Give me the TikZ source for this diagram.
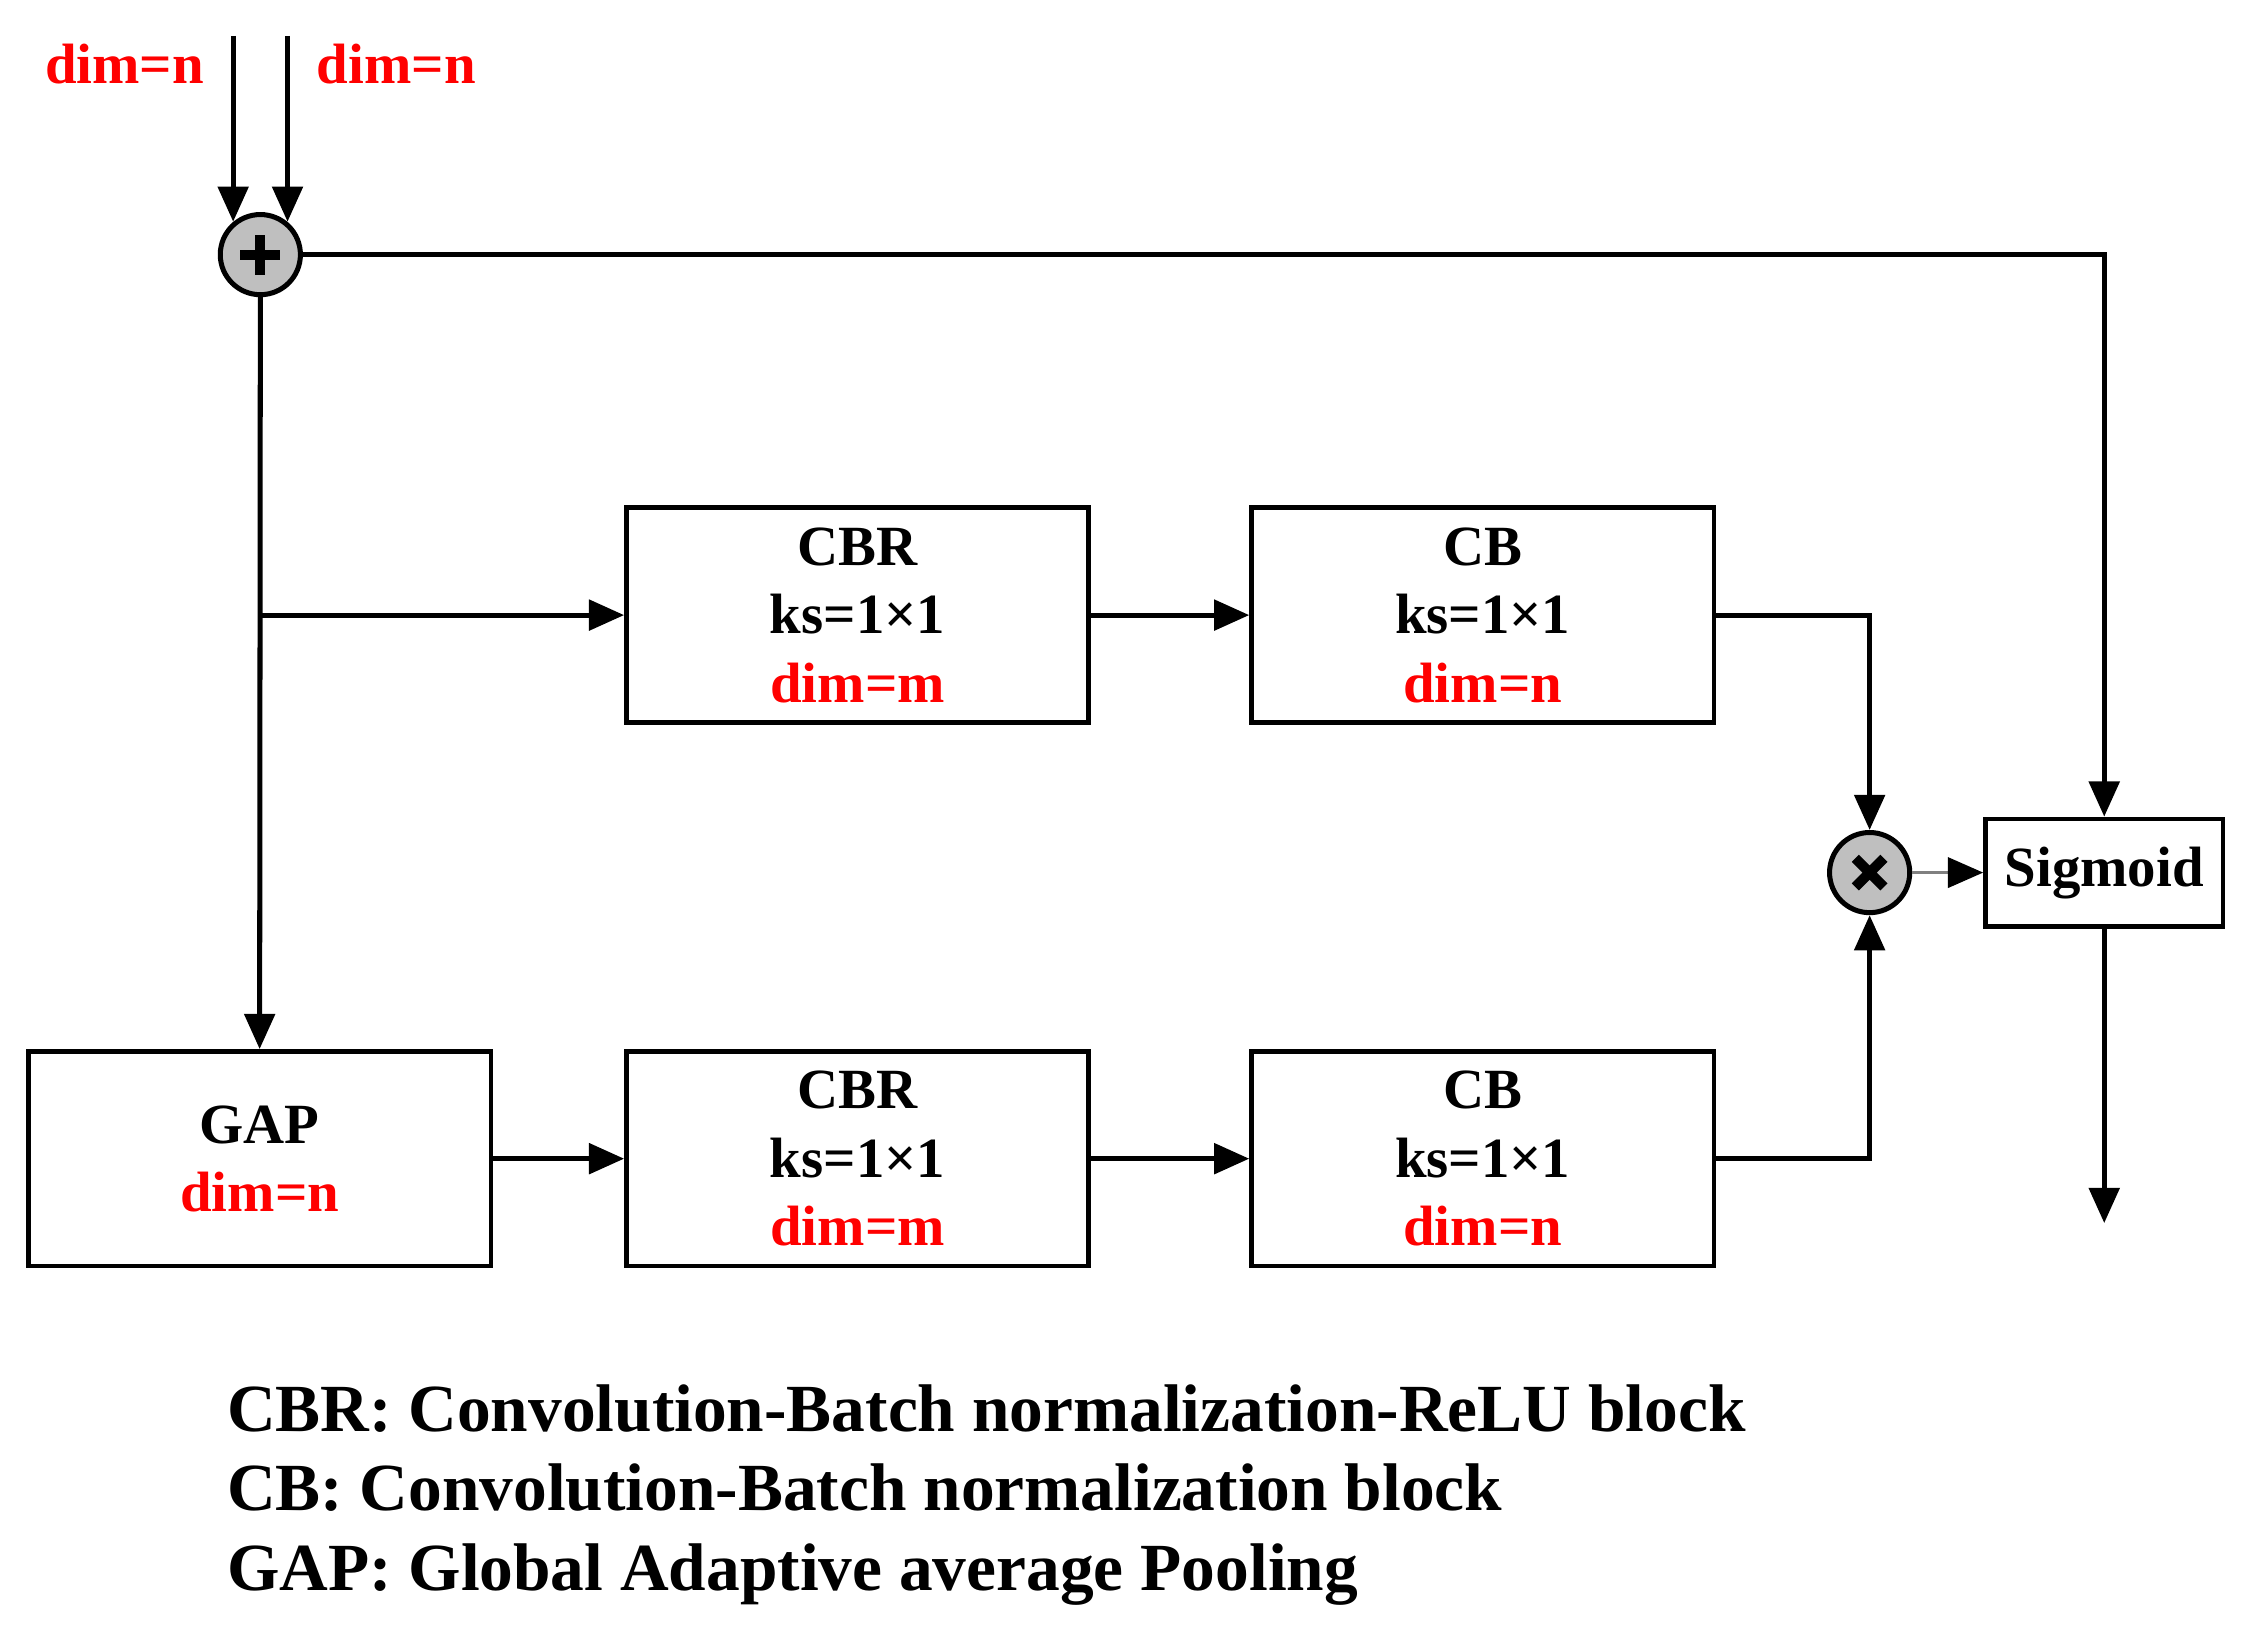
\documentclass[tikz,border=0pt]{standalone}
\usepackage{fontspec}
\setmainfont{Liberation Serif}
\usetikzlibrary{arrows.meta}
\begin{document}
\begin{tikzpicture}[x=0.01cm,y=-0.01cm,
  box/.style={draw,line width=0.9pt,minimum width=3.23cm,minimum height=1.5cm,align=center,font=\fontsize{11.3}{13.6}\selectfont\bfseries,inner sep=0pt},
  op/.style={circle,draw,line width=1pt,fill=gray!50,minimum size=0.56cm,inner sep=0pt},
  arr/.style={line width=1pt,-{Triangle[length=7pt,width=6pt]}},
  lab/.style={text=red,font=\fontsize{11.3}{13}\selectfont\bfseries}]
\useasboundingbox (0,0) rectangle (1568,1146);
\node[op] (plus) at (182,178) {};
\draw[line width=2pt] ([xshift=-0.14cm]plus.center) -- ([xshift=0.14cm]plus.center) ([yshift=-0.14cm]plus.center) -- ([yshift=0.14cm]plus.center);
\node[op] (times) at (1307,610) {};
\draw[line width=2pt] ([shift={(-0.1cm,-0.1cm)}]times.center) -- ([shift={(0.1cm,0.1cm)}]times.center) ([shift={(-0.1cm,0.1cm)}]times.center) -- ([shift={(0.1cm,-0.1cm)}]times.center);
\node[box] (cbr1) at (599.5,430) {CBR\\ks=1×1\\\textcolor{red}{dim=m}};
\node[box] (cb1) at (1036.5,430) {CB\\ks=1×1\\\textcolor{red}{dim=n}};
\node[box] (gap) at (181.5,810) {GAP\\\textcolor{red}{dim=n}};
\node[box] (cbr2) at (599.5,810) {CBR\\ks=1×1\\\textcolor{red}{dim=m}};
\node[box] (cb2) at (1036.5,810) {CB\\ks=1×1\\\textcolor{red}{dim=n}};
\node[box,minimum width=1.66cm,minimum height=0.75cm] (sig) at (1471,610) {Sigmoid};
\coordinate (in1) at (163,25); \coordinate (in2) at (201,25);
\coordinate (out) at (1471,855);
\node[lab] (l1) at (87,45) {dim=n};
\node[lab] (l2) at (277,45) {dim=n};
\draw[arr] (in1) -- (163,155);
\draw[arr] (in2) -- (201,155);
\draw[arr] (plus.east) -| (sig.north);
\draw[arr] (plus.south) -- (gap.north);
\draw[arr] (182,430) -- (cbr1.west);
\draw[arr] (cbr1) -- (cb1);
\draw[arr] (gap) -- (cbr2);
\draw[arr] (cbr2) -- (cb2);
\draw[arr] (cb1.east) -| (times.north);
\draw[arr] (cb2.east) -| (times.south);
\draw[gray,line width=0.6pt,-{Triangle[length=7pt,width=6pt,color=black]}] (times) -- (sig);
\draw[arr] (sig.south) -- (out);
\node[anchor=west,align=left,inner sep=0pt,font=\fontsize{13.4}{15.8}\selectfont\bfseries] (leg) at (158,1045) {CBR: Convolution-Batch normalization-ReLU block\\CB: Convolution-Batch normalization block\\GAP: Global Adaptive average Pooling};
\end{tikzpicture}
\end{document}
